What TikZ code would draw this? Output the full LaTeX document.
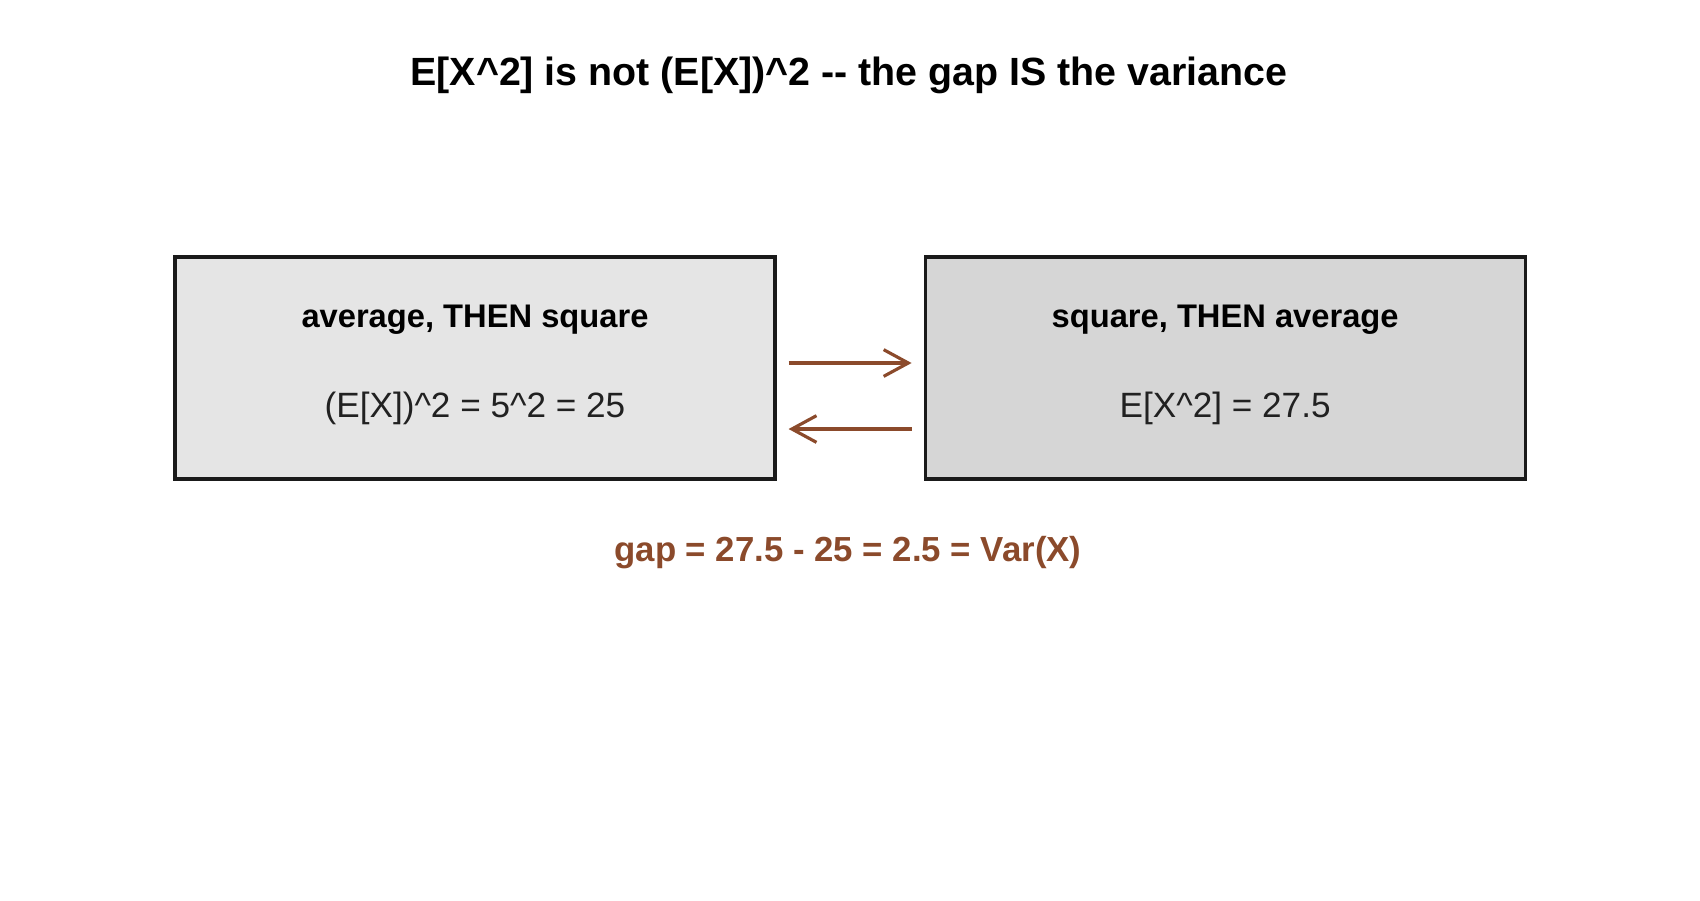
\documentclass[tikz,border=0pt]{standalone}
\usepackage{fontspec}
\setmainfont{Liberation Sans}
\usepackage{xcolor}
\usetikzlibrary{positioning,arrows.meta}
\definecolor{gapbrown}{HTML}{8B4A2B}
\definecolor{boxline}{HTML}{1A1A1A}
\tikzset{%
  box/.style={draw=boxline, line width=0.9pt, minimum width=6cm, minimum height=2.22cm, inner sep=0pt},
  light box/.style={fill=black!10, box},
  dark box/.style={fill=black!16, box},
  head/.style={anchor=base, font=\fontsize{9.3}{11}\selectfont\bfseries},
  value/.style={anchor=base, text=black!87, font=\fontsize{10}{12}\selectfont},
  flow/.style={draw=gapbrown, line width=0.9pt, -{Straight Barb[length=7pt, width=7.6pt]}}
}

\begin{document}
\begin{tikzpicture}

          \useasboundingbox (0,0) rectangle (17,-9);

          \node[anchor=base, font=\fontsize{11.2}{13}\selectfont\bfseries] (title) at (8.49,-0.85)
            {E[X\textasciicircum 2] is not (E[X])\textasciicircum 2 -{}- the gap IS the variance};

          \node[light box] (avg) at (4.75,-3.68) {};
          \node[dark box, right=1.47cm of avg] (sq) {};

          \node[head] (avg head) at ([yshift=0.41cm]avg.center) {average, THEN square};
          \node[value] (avg val) at ([yshift=-0.49cm]avg.center) {(E[X])\textasciicircum 2 = 5\textasciicircum 2 = 25};
          \node[head] (sq head) at ([yshift=0.41cm]sq.center) {square, THEN average};
          \node[value] (sq val) at ([yshift=-0.49cm]sq.center) {E[X\textasciicircum 2] = 27.5};

          \draw[flow] ([xshift=0.12cm, yshift=0.05cm]avg.east) -- ([xshift=-0.12cm, yshift=0.05cm]sq.west);
          \draw[flow] ([xshift=-0.12cm, yshift=-0.61cm]sq.west) -- ([xshift=0.12cm, yshift=-0.61cm]avg.east);

          \node[anchor=base, text=gapbrown, font=\fontsize{9.9}{12}\selectfont\bfseries] (gap) at (8.48,-5.61)
            {gap = 27.5 - 25 = 2.5 = Var(X)};
        \end{tikzpicture}
\end{document}
